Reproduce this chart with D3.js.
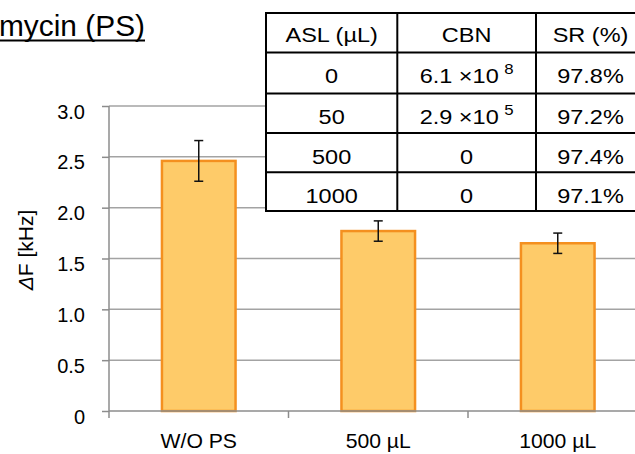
<!DOCTYPE html>
<html>
<head>
<meta charset="utf-8">
<script src="https://cdn.jsdelivr.net/npm/d3@7/dist/d3.min.js"></script>
<style>
  html, body { margin: 0; padding: 0; background: #fff; }
  svg { display: block; }
  text { font-family: "Liberation Sans", Arial, sans-serif; fill: #000; }
</style>
</head>
<body>
<svg id="chart" width="635" height="454"></svg>
<script>
// Bar data: frequency shift per treatment, with error bars
const categories = ["W/O PS", "500 µL", "1000 µL"];
const values = [2.46, 1.77, 1.65];
const errors = [0.2, 0.1, 0.1];
const yTicks = [0, 0.5, 1.0, 1.5, 2.0, 2.5, 3.0];

// Inset table data
const tableHeader = ["ASL (µL)", "CBN", "SR (%)"];
const aslVolumes = ["0", "50", "500", "1000"];
const cbnMantissa = ["6.1", "2.9", "0", "0"];
const cbnExponent = ["8", "5", null, null];
const survivalRates = ["97.8%", "97.2%", "97.4%", "97.1%"];

const svg = d3.select("#chart");

const axisX = 109, plotRight = 647.5;
const y0 = 411, y3 = 106;

const x = d3.scaleBand()
  .domain(categories)
  .range([axisX, plotRight])
  .paddingInner(0.59)
  .paddingOuter(0.295);

const y = d3.scaleLinear().domain([0, 3]).range([y0, y3]);

const gridColor = "#a3a3a3";
const axisColor = "#8c8c8c";

// Horizontal gridlines
svg.append("g").selectAll("line")
  .data(yTicks.filter(t => t > 0))
  .join("line")
  .attr("x1", axisX).attr("x2", 635)
  .attr("y1", d => y(d)).attr("y2", d => y(d))
  .attr("stroke", gridColor).attr("stroke-width", 1.5);

// Bars
svg.append("g").selectAll("rect")
  .data(values)
  .join("rect")
  .attr("x", (d, i) => x(categories[i]))
  .attr("y", d => y(d))
  .attr("width", x.bandwidth())
  .attr("height", d => y(0) - y(d))
  .attr("fill", "#fecb69")
  .attr("stroke", "#f4901f")
  .attr("stroke-width", 2.5);

// Error bars
const eb = svg.append("g").attr("stroke", "#111").attr("stroke-width", 1.5);
values.forEach((v, i) => {
  const cx = x(categories[i]) + x.bandwidth() / 2;
  const hi = y(v + errors[i]), lo = y(v - errors[i]);
  eb.append("line").attr("x1", cx).attr("x2", cx).attr("y1", hi).attr("y2", lo);
  eb.append("line").attr("x1", cx - 4.5).attr("x2", cx + 4.5).attr("y1", hi).attr("y2", hi);
  eb.append("line").attr("x1", cx - 4.5).attr("x2", cx + 4.5).attr("y1", lo).attr("y2", lo);
});

// Y axis
const yAxis = d3.axisLeft(y)
  .tickValues(yTicks)
  .tickSize(7)
  .tickPadding(17)
  .tickFormat(d => d === 0 ? "0" : d3.format(".1f")(d));
const gy = svg.append("g").attr("transform", `translate(${axisX},0)`).call(yAxis);
gy.select(".domain").remove();
gy.selectAll(".tick line").attr("stroke", axisColor).attr("stroke-width", 1.5);
gy.selectAll(".tick text")
  .attr("font-size", 20)
  .attr("font-family", "Liberation Sans, Arial, sans-serif")
  .attr("fill", "#000")
  .attr("dy", null)
  .attr("y", 12);
svg.append("line")
  .attr("x1", axisX).attr("x2", axisX)
  .attr("y1", y3).attr("y2", y0 + 7)
  .attr("stroke", axisColor).attr("stroke-width", 1.5);

// X axis baseline and category boundary ticks
svg.append("line")
  .attr("x1", axisX).attr("x2", 635)
  .attr("y1", y0).attr("y2", y0)
  .attr("stroke", axisColor).attr("stroke-width", 1.5);
const step = x.step();
svg.append("g").selectAll("line")
  .data(d3.range(1, categories.length + 1))
  .join("line")
  .attr("x1", i => axisX + i * step).attr("x2", i => axisX + i * step)
  .attr("y1", y0).attr("y2", y0 + 7)
  .attr("stroke", axisColor).attr("stroke-width", 1.5);

// Category labels
svg.append("g").selectAll("text")
  .data(categories)
  .join("text")
  .attr("transform", d => `translate(${x(d) + x.bandwidth() / 2},448) scale(1.06,1)`)
  .attr("text-anchor", "middle")
  .attr("font-size", 20)
  .text(d => d);

// Y axis title
const yt = svg.append("text")
  .attr("transform", "translate(33,250) rotate(-90) scale(1.05,1)")
  .attr("text-anchor", "middle")
  .attr("font-size", 20);
yt.append("tspan").attr("font-style", "italic").text("Δ");
yt.append("tspan").text("F [kHz]");

// Inset table
const tbl = svg.append("g");
const colEdges = [266, 397.3, 536, 645];
const rowEdges = [13, 52.5, 93.5, 133, 172.3, 211];
tbl.append("rect")
  .attr("x", colEdges[0]).attr("y", rowEdges[0])
  .attr("width", colEdges[3] - colEdges[0])
  .attr("height", rowEdges[5] - rowEdges[0])
  .attr("fill", "#fff").attr("stroke", "#000").attr("stroke-width", 2);
rowEdges.slice(1, -1).forEach(ry => {
  tbl.append("line").attr("x1", colEdges[0]).attr("x2", colEdges[3])
    .attr("y1", ry).attr("y2", ry).attr("stroke", "#000").attr("stroke-width", 2);
});
colEdges.slice(1, -1).forEach(cx => {
  tbl.append("line").attr("x1", cx).attr("x2", cx)
    .attr("y1", rowEdges[0]).attr("y2", rowEdges[5]).attr("stroke", "#000").attr("stroke-width", 2);
});

const colCenter = i => (colEdges[i] + colEdges[i + 1]) / 2;
function cellText(col, baseline) {
  return tbl.append("text")
    .attr("transform", `translate(${colCenter(col)},${baseline}) scale(1.12,1)`)
    .attr("text-anchor", "middle")
    .attr("font-size", 21);
}
tableHeader.forEach((h, c) => cellText(c, rowEdges[0] + 28.5).text(h));
aslVolumes.forEach((a, r) => {
  const base = rowEdges[r + 1] + 30.5;
  cellText(0, base).text(a);
  const cbn = cellText(1, base);
  if (cbnExponent[r]) {
    cbn.append("tspan").text(cbnMantissa[r] + "  ×10");
    cbn.append("tspan").attr("dx", 5).attr("dy", -9).attr("font-size", 15).text(cbnExponent[r]);
  } else {
    cbn.text(cbnMantissa[r]);
  }
  cellText(2, base).text(survivalRates[r]);
});

// Heading (partially outside the left edge)
svg.append("text")
  .attr("x", -1).attr("y", 36)
  .attr("font-family", "Lato, 'Open Sans', sans-serif")
  .attr("font-size", 30)
  .attr("textLength", 146)
  .attr("lengthAdjust", "spacingAndGlyphs")
  .text("mycin (PS)");
svg.append("line")
  .attr("x1", 0).attr("x2", 145)
  .attr("y1", 40.5).attr("y2", 40.5)
  .attr("stroke", "#000").attr("stroke-width", 1.8);
</script>
</body>
</html>
